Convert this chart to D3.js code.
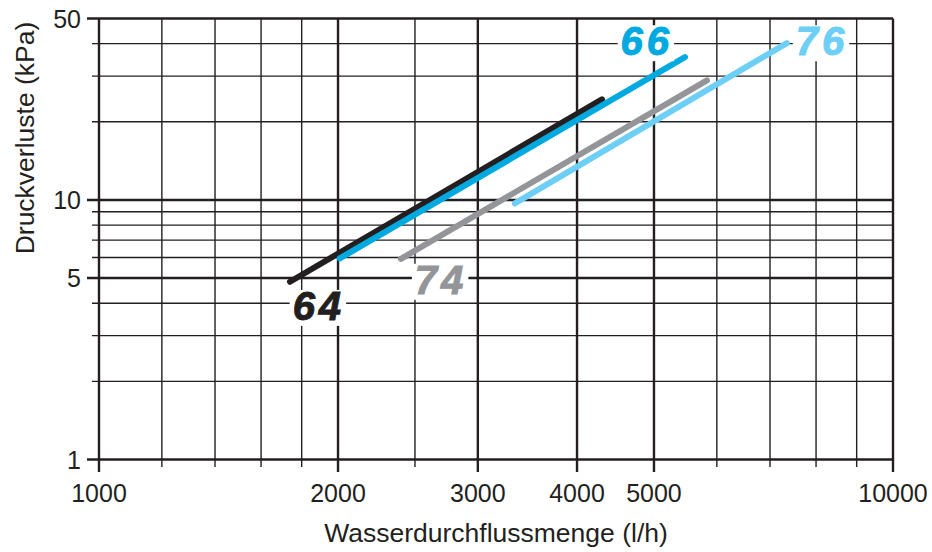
<!DOCTYPE html>
<html>
<head>
<meta charset="utf-8">
<script src="https://cdn.jsdelivr.net/npm/d3@7"></script>
<style>
  body { margin: 0; background: #fff; }
  svg { display: block; font-family: "Liberation Sans", Arial, sans-serif; }
</style>
</head>
<body>
<svg id="chart" width="932" height="552"></svg>
<script>
// Series (Kv curves) – start / end points
const seriesNames = ["64", "66", "74", "76"];
const flowStart = [1740, 2010, 2400, 3340];
const flowEnd = [4300, 5470, 5830, 7350];
const dpStart = [4.84, 5.95, 5.93, 9.7];
const dpEnd = [24.4, 35.5, 28.9, 40.2];
const seriesColors = ["#231f20", "#00a9e0", "#939598", "#6dcff6"];

// label anchors in data units (flow, pressure at baseline)
const labelFlow = [1892, 4898, 2697, 8140];
const labelDp = [3.45, 36.1, 4.35, 36.1];

// grid / ticks
const xGrid = [1000, 1200, 1400, 1600, 1800, 2000, 2500, 3000, 4000, 5000, 6000, 7000, 8000, 9000, 10000];
const xLabels = [1000, 2000, 3000, 4000, 5000, 10000];
const yGrid = [1, 2, 3, 4, 5, 6, 7, 8, 9, 10, 20, 30, 40, 50];
const yLabels = [1, 5, 10, 50];

const ink = "#231f20";
const svg = d3.select("#chart");

const x = d3.scaleLog().domain([1000, 10000]).range([99, 893]);
const y = d3.scaleLog().domain([1, 50]).range([459.5, 18.5]);

// horizontal grid
svg.append("g")
  .selectAll("line")
  .data(yGrid)
  .join("line")
  .attr("x1", d => yLabels.includes(d) ? 87 : 92)
  .attr("x2", x(10000))
  .attr("y1", d => y(d))
  .attr("y2", d => y(d))
  .attr("stroke", ink)
  .attr("stroke-width", d => yLabels.includes(d) ? 2.4 : 1.4);

// vertical grid
svg.append("g")
  .selectAll("line")
  .data(xGrid)
  .join("line")
  .attr("x1", d => x(d))
  .attr("x2", d => x(d))
  .attr("y1", y(50))
  .attr("y2", d => xLabels.includes(d) ? 472 : 467)
  .attr("stroke", ink)
  .attr("stroke-width", d => xLabels.includes(d) ? 2.4 : 1.4);

// y tick labels
svg.append("g")
  .selectAll("text")
  .data(yLabels)
  .join("text")
  .attr("x", 81)
  .attr("y", d => y(d))
  .attr("dy", "0.36em")
  .attr("text-anchor", "end")
  .attr("font-size", 25)
  .attr("fill", ink)
  .text(d => d);

// x tick labels
svg.append("g")
  .selectAll("text")
  .data(xLabels)
  .join("text")
  .attr("x", d => x(d))
  .attr("y", 502)
  .attr("text-anchor", "middle")
  .attr("font-size", 25)
  .attr("fill", ink)
  .text(d => d);

// axis titles
svg.append("text")
  .attr("x", (x(1000) + x(10000)) / 2)
  .attr("y", 542)
  .attr("text-anchor", "middle")
  .attr("font-size", 26.5)
  .attr("fill", ink)
  .text("Wasserdurchflussmenge (l/h)");

svg.append("text")
  .attr("transform", "translate(34,138) rotate(-90)")
  .attr("text-anchor", "middle")
  .attr("font-size", 26.5)
  .attr("fill", ink)
  .text("Druckverluste (kPa)");

// series lines
const lines = seriesNames.map((name, i) => ({
  name,
  color: seriesColors[i],
  pts: [[flowStart[i], dpStart[i]], [flowEnd[i], dpEnd[i]]]
}));

const lineGen = d3.line().x(d => x(d[0])).y(d => y(d[1]));

svg.append("g")
  .selectAll("path")
  .data(lines)
  .join("path")
  .attr("d", d => lineGen(d.pts))
  .attr("fill", "none")
  .attr("stroke", d => d.color)
  .attr("stroke-width", 6)
  .attr("stroke-linecap", "round");

// series labels with white knock-out
const labels = svg.append("g")
  .selectAll("g")
  .data(lines)
  .join("g");

labels.each(function (d, i) {
  const g = d3.select(this);
  const rect = g.append("rect").attr("fill", "#fff");
  const t = g.append("text")
    .attr("x", x(labelFlow[i]))
    .attr("y", y(labelDp[i]))
    .attr("text-anchor", "middle")
    .attr("font-size", 40)
    .attr("font-weight", "bold")
    .attr("font-style", "italic")
    .attr("letter-spacing", 4)
    .attr("stroke", d.color)
    .attr("stroke-width", 1)
    .attr("fill", d.color)
    .text(d.name);
  const b = t.node().getBBox();
  rect.attr("x", b.x - 3).attr("y", b.y + 6)
    .attr("width", b.width + 4).attr("height", b.height - 8);
});
</script>
</body>
</html>
